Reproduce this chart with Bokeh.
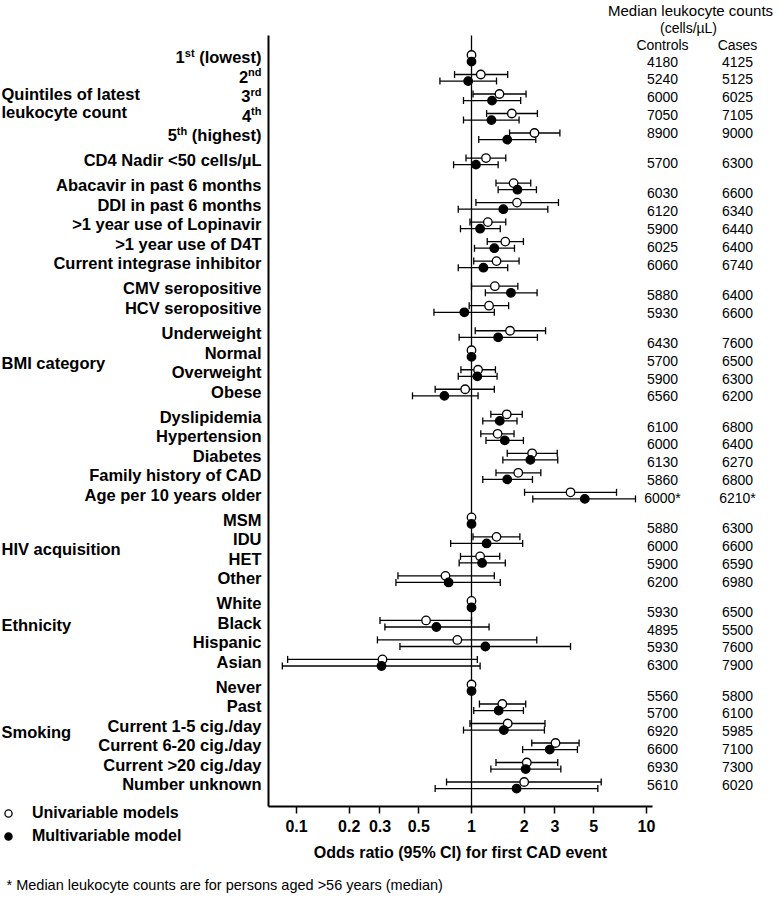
import math
from bokeh.plotting import figure
from bokeh.models import (ColumnDataSource, Range1d, FixedTicker, LabelSet, Label,
                          Legend, LegendItem)
from bokeh.core.properties import value
from bokeh.embed import file_html
from bokeh.resources import INLINE

FONT = "Liberation Sans"

# ---------------- data ----------------
quintile_num = ["1", "2", "3", "4", "5"]
quintile_sup = ["st", "nd", "rd", "th", "th"]
quintile_tail = ["(lowest)", "", "", "", "(highest)"]

other_labels = [
    "CD4 Nadir <50 cells/\u00b5L",
    "Abacavir in past 6 months", "DDI in past 6 months", ">1 year use of Lopinavir",
    ">1 year use of D4T", "Current integrase inhibitor",
    "CMV seropositive", "HCV seropositive",
    "Underweight", "Normal", "Overweight", "Obese",
    "Dyslipidemia", "Hypertension", "Diabetes", "Family history of CAD", "Age per 10 years older",
    "MSM", "IDU", "HET", "Other",
    "White", "Black", "Hispanic", "Asian",
    "Never", "Past", "Current 1-5 cig./day", "Current 6-20 cig./day",
    "Current >20 cig./day", "Number unknown",
]

group_sizes = [5, 1, 5, 2, 4, 5, 4, 4, 6]
group_titles = [["Quintiles of latest", "leukocyte count"], [], [], [], ["BMI category"], [],
                ["HIV acquisition"], ["Ethnicity"], ["Smoking"]]

N = None
uni_or = [1, 1.13, 1.445, 1.70, 2.29, 1.21, 1.74, 1.82, 1.24, 1.56, 1.39, 1.36, 1.26,
          1.66, 1, 1.09, 0.92, 1.59, 1.41, 2.22, 1.85, 3.68, 1, 1.39, 1.12, 0.71,
          1, 0.55, 0.83, 0.31, 1, 1.50, 1.61, 3.02, 2.07, 2.00]
uni_lo = [N, 0.80, 1.02, 1.22, 1.65, 0.93, 1.38, 1.06, 0.98, 1.23, 1.03, 1.00, 0.97,
          1.05, N, 0.87, 0.62, 1.29, 1.13, 1.60, 1.38, 2.01, N, 1.02, 0.865, 0.38,
          N, 0.30, 0.29, 0.089, N, 1.11, 0.98, 2.21, 1.38, 0.72]
uni_hi = [N, 1.61, 2.05, 2.38, 3.20, 1.57, 2.18, 3.14, 1.57, 1.98, 1.87, 1.84, 1.63,
          2.65, N, 1.37, 1.35, 1.95, 1.75, 3.09, 2.49, 6.74, N, 1.89, 1.45, 1.35,
          N, 1.00, 2.36, 1.08, N, 2.04, 2.63, 4.12, 3.11, 5.51]
multi_or = [1, 0.957, 1.31, 1.30, 1.60, 1.06, 1.83, 1.52, 1.12, 1.35, 1.17, 1.68, 0.91,
            1.42, 1, 1.08, 0.70, 1.45, 1.55, 2.17, 1.60, 4.44, 1, 1.22, 1.15, 0.74,
            1, 0.63, 1.20, 0.306, 1, 1.43, 1.53, 2.80, 2.04, 1.81]
multi_lo = [N, 0.66, 0.90, 0.90, 1.10, 0.79, 1.42, 0.84, 0.865, 1.04, 0.84, 1.20, 0.61,
            0.85, N, 0.84, 0.46, 1.16, 1.21, 1.51, 1.16, 2.24, N, 0.76, 0.85, 0.37,
            N, 0.32, 0.39, 0.083, N, 1.03, 0.90, 1.96, 1.29, 0.62]
multi_hi = [N, 1.39, 1.91, 1.87, 2.33, 1.42, 2.35, 2.73, 1.46, 1.76, 1.61, 2.37, 1.35,
            2.38, N, 1.40, 1.09, 1.82, 1.98, 3.11, 2.23, 8.65, N, 1.96, 1.56, 1.46,
            N, 1.26, 3.68, 1.12, N, 1.98, 2.61, 4.03, 3.24, 5.27]

controls = ["4180", "5240", "6000", "7050", "8900", "5700", "6030", "6120", "5900", "6025",
            "6060", "5880", "5930", "6430", "5700", "5900", "6560", "6100", "6000", "6130",
            "5860", "6000*", "5880", "6000", "5900", "6200", "5930", "4895", "5930", "6300",
            "5560", "5700", "6920", "6600", "6930", "5610"]
cases = ["4125", "5125", "6025", "7105", "9000", "6300", "6600", "6340", "6440", "6400",
         "6740", "6400", "6600", "7600", "6500", "6300", "6200", "6800", "6400", "6270",
         "6800", "6210*", "6300", "6600", "6590", "6980", "6500", "5500", "7600", "7900",
         "5800", "6100", "5985", "7100", "7300", "6020"]

x_ticks = [0.1, 0.2, 0.3, 0.5, 1, 2, 3, 5, 10]
x_tick_labels = ["0.1", "0.2", "0.3", "0.5", "1", "2", "3", "5", "10"]

# ---------------- layout (canvas pixels) ----------------
W, H = 779, 897
AX_L, AX_R, AX_T, AX_B = 268, 652, 35, 806
ONE_PX, DECADE_PX = 471.0, 175.0
ROW0_PX, ROW_PX, GAP_PX, PAIR_PX = 57.8, 19.5, 5.56, 3.3
NUM0_PX, NUM_STEP, NUM_GAP = 61.0, 17.8, 30.3
group_anchor = [2.27, 0, 0, 0, 1.48, 0, 1.44, 1.05, 2.28]
LABEL_R, LABEL_SIZE, LABEL_DY = 261, 16.5, -1.0


def xv(px):
    return 10 ** ((px - ONE_PX) / DECADE_PX)


def yv(py):
    return -(py - ROW0_PX) / ROW_PX


center_px, num_px, group_first_px = [], [], []
cy, ny = ROW0_PX, NUM0_PX
for gi, n in enumerate(group_sizes):
    group_first_px.append(cy)
    for k in range(n):
        center_px.append(cy)
        num_px.append(ny)
        cy += ROW_PX
        ny += NUM_STEP
    cy += GAP_PX
    ny += NUM_GAP - NUM_STEP

p = figure(width=W, height=H, x_axis_type="log",
           x_range=Range1d(xv(0), xv(W)), y_range=Range1d(yv(H), yv(0)),
           output_backend="svg", toolbar_location=None, title=None,
           min_border=0, min_border_left=0, min_border_right=0,
           min_border_top=0, min_border_bottom=0)
p.outline_line_color = None
p.xgrid.visible = False
p.ygrid.visible = False
p.background_fill_color = "white"
p.border_fill_color = "white"

# axes drawn at fixed positions, limited to the plotting area
p.yaxis.fixed_location = xv(AX_L)
p.yaxis.bounds = (yv(AX_B), yv(AX_T))
p.yaxis.ticker = FixedTicker(ticks=[])
p.yaxis.major_label_text_font_size = "0px"
p.yaxis.major_tick_line_color = None
p.yaxis.minor_tick_line_color = None
p.yaxis.axis_line_width = 2
p.yaxis.axis_line_color = "black"

p.xaxis.fixed_location = yv(AX_B)
p.xaxis.bounds = (xv(AX_L), xv(AX_R))
p.xaxis.ticker = FixedTicker(ticks=x_ticks)
p.xaxis.major_label_overrides = {t: s for t, s in zip(x_ticks, x_tick_labels)}
p.xaxis.minor_tick_line_color = None
p.xaxis.major_tick_in = 0
p.xaxis.major_tick_out = 7
p.xaxis.major_tick_line_width = 1.5
p.xaxis.major_tick_line_color = "black"
p.xaxis.axis_line_width = 2
p.xaxis.axis_line_color = "black"
p.xaxis.major_label_text_font = FONT
p.xaxis.major_label_text_font_size = "16px"
p.xaxis.major_label_text_font_style = "bold"
p.xaxis.major_label_text_color = "black"
p.xaxis.major_label_standoff = 6
p.xaxis.axis_label = "Odds ratio (95% CI) for first CAD event"
p.xaxis.axis_label_text_font = FONT
p.xaxis.axis_label_text_font_size = "16px"
p.xaxis.axis_label_text_font_style = "bold"
p.xaxis.axis_label_text_color = "black"
p.xaxis.axis_label_standoff = 9

# reference line at OR = 1
p.segment(x0=[1], y0=[yv(AX_T)], x1=[1], y1=[yv(AX_B)], line_color="black", line_width=1.3)


def ci_sources(lo, hi, off):
    idx = [i for i in range(len(lo)) if lo[i] is not None]
    ys = [yv(center_px[i] + off) for i in idx]
    seg = ColumnDataSource(dict(lo=[lo[i] for i in idx], hi=[hi[i] for i in idx], y=ys))
    caps = ColumnDataSource(dict(x=[lo[i] for i in idx] + [hi[i] for i in idx], y=ys * 2))
    return seg, caps


for lo, hi, off in [(uni_lo, uni_hi, -PAIR_PX), (multi_lo, multi_hi, PAIR_PX)]:
    seg, caps = ci_sources(lo, hi, off)
    p.segment(x0="lo", y0="y", x1="hi", y1="y", source=seg, line_color="black", line_width=1.3)
    p.scatter(x="x", y="y", source=caps, marker="dash", angle=math.pi / 2, size=7,
              line_color="black", line_width=1.3)

src_uni = ColumnDataSource(dict(x=uni_or, y=[yv(c - PAIR_PX) for c in center_px]))
src_multi = ColumnDataSource(dict(x=multi_or, y=[yv(c + PAIR_PX) for c in center_px]))
r_open = p.scatter(x="x", y="y", source=src_uni, marker="circle", size=8.5,
                   fill_color="white", line_color="black", line_width=1.3)
r_fill = p.scatter(x="x", y="y", source=src_multi, marker="circle", size=8.5,
                   fill_color="black", line_color="black", line_width=1.3)

# ---------------- texts ----------------


def labels(xs, ys, ts, align, size, bold=True):
    p.add_layout(LabelSet(x="x", y="y", text="text",
                          source=ColumnDataSource(dict(x=xs, y=ys, text=ts)),
                          text_align=align, text_baseline="middle", text_font=value(FONT),
                          text_font_size=size, text_font_style="bold" if bold else "normal",
                          text_color="black"))


LS = "%spx" % LABEL_SIZE
labels([xv(LABEL_R)] * len(other_labels),
       [yv(center_px[i + 5] + LABEL_DY) for i in range(len(other_labels))],
       other_labels, "right", LS)

AB = {' ': 278, '(': 333, ')': 333, 'l': 278, 'o': 611, 'w': 778, 'e': 556, 's': 556,
      't': 333, 'h': 611, 'i': 278, 'g': 611, 'r': 389, 'd': 611, 'n': 611}


def bw(s, size):
    return sum(AB.get(c, 556) for c in s) * size / 1000.0


SUP = 11
qt_x, qt_y, qt_t, qs_x, qs_y, qs_t, qn_x, qn_y, qn_t = ([] for _ in range(9))
for i in range(5):
    sup_r = LABEL_R
    if quintile_tail[i]:
        sup_r = LABEL_R - bw(quintile_tail[i], LABEL_SIZE) - bw(" ", LABEL_SIZE)
        qt_x.append(xv(LABEL_R)); qt_y.append(yv(center_px[i] + LABEL_DY)); qt_t.append(quintile_tail[i])
    num_r = sup_r - bw(quintile_sup[i], SUP)
    qs_x.append(xv(sup_r)); qs_y.append(yv(center_px[i] + LABEL_DY - 4.5)); qs_t.append(quintile_sup[i])
    qn_x.append(xv(num_r)); qn_y.append(yv(center_px[i] + LABEL_DY)); qn_t.append(quintile_num[i])
labels(qt_x, qt_y, qt_t, "right", LS)
labels(qs_x, qs_y, qs_t, "right", "%dpx" % SUP)
labels(qn_x, qn_y, qn_t, "right", LS)

gt_x, gt_y, gt_t = [], [], []
for gi, lines in enumerate(group_titles):
    if not lines:
        continue
    base = group_first_px[gi] + group_anchor[gi] * ROW_PX
    for li, line in enumerate(lines):
        gt_x.append(xv(1))
        gt_y.append(yv(base + (li - (len(lines) - 1) / 2) * 18))
        gt_t.append(line)
labels(gt_x, gt_y, gt_t, "left", LS)

CTRL_X, CASE_X = 662, 737
labels([xv(CTRL_X)] * len(controls), [yv(v) for v in num_px], controls, "center", "14px", False)
labels([xv(CASE_X)] * len(cases), [yv(v) for v in num_px], cases, "center", "14px", False)

for txt, px, py, size in [("Median leukocyte counts", 690, 10, "15px"),
                          ("(cells/\u00b5L)", 688, 27, "14px"),
                          ("Controls", CTRL_X, 44, "14px"),
                          ("Cases", CASE_X, 44, "14px")]:
    p.add_layout(Label(x=xv(px), y=yv(py), text=txt, text_align="center", text_baseline="middle",
                       text_font=FONT, text_font_size=size, text_color="black"))

p.add_layout(Label(x=xv(6), y=yv(884),
                   text="* Median leukocyte counts are for persons aged >56 years (median)",
                   text_align="left", text_baseline="middle", text_font=FONT,
                   text_font_size="14.5px", text_color="black"))

legend = Legend(items=[LegendItem(label="Univariable models", renderers=[r_open]),
                       LegendItem(label="Multivariable model", renderers=[r_fill])],
                location=(-1, H - 845), orientation="vertical",
                padding=0, margin=0, spacing=5, glyph_width=18, glyph_height=18,
                label_height=18, label_standoff=15,
                background_fill_alpha=0, border_line_alpha=0,
                label_text_font=FONT, label_text_font_size="16px",
                label_text_font_style="bold", label_text_color="black")
p.add_layout(legend)

with open("out.html", "w", encoding="utf-8") as f:
    f.write(file_html(p, INLINE))
